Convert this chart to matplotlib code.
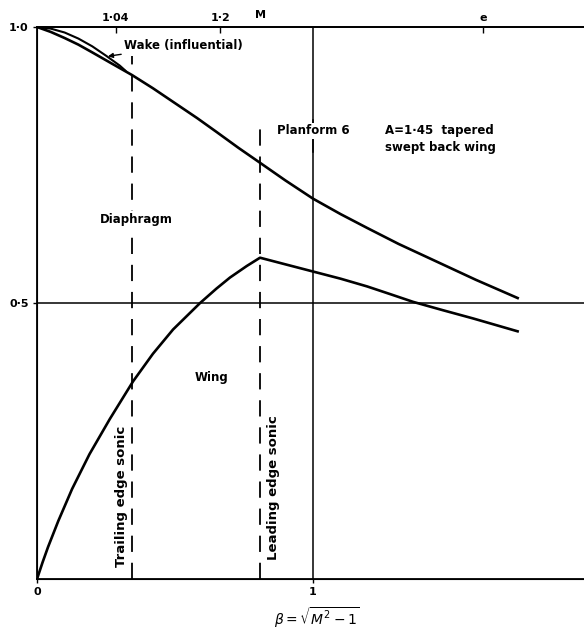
#!/usr/bin/env python3
"""Planform 6 (A=1.45 tapered swept back wing): load split vs beta = sqrt(M^2 - 1)."""
import numpy as np
import matplotlib.pyplot as plt

# diaphragm share (upper curve)
beta_diaph = [0.0, 0.05, 0.10, 0.15, 0.20, 0.27, 0.344, 0.42, 0.50, 0.58, 0.65, 0.73, 0.808,
              0.90, 1.00, 1.10, 1.196, 1.31, 1.435, 1.59, 1.746]
val_diaph = [1.000, 0.991, 0.980, 0.968, 0.954, 0.934, 0.913, 0.889, 0.862, 0.835, 0.810, 0.781, 0.754,
             0.722, 0.689, 0.661, 0.636, 0.607, 0.578, 0.542, 0.508]

# wake (influential) branch near the origin
beta_wake = [0.0, 0.05, 0.10, 0.15, 0.20, 0.25, 0.30, 0.32]
val_wake = [1.000, 0.997, 0.990, 0.979, 0.965, 0.948, 0.930, 0.921]

# wing share (lower curve)
beta_wing = [0.0, 0.02, 0.04, 0.077, 0.127, 0.19, 0.264, 0.348, 0.42, 0.493, 0.591, 0.65, 0.699, 0.76, 0.808,
             0.90, 1.00, 1.10, 1.196, 1.28, 1.363, 1.47, 1.58, 1.746]
val_wing = [0.000, 0.030, 0.058, 0.105, 0.163, 0.226, 0.290, 0.358, 0.408, 0.452, 0.500, 0.526, 0.546, 0.567, 0.582,
            0.570, 0.557, 0.544, 0.530, 0.516, 0.502, 0.487, 0.472, 0.448]

# sonic edges (beta)
beta_te_sonic = 0.344
beta_le_sonic = 0.808

# Mach scale along the top
mach_ticks = [1.04, 1.2, 1.9]
mach_labels = ["1·04", "1·2", "e"]

FONT = "DejaVu Sans"
FW = "bold"


def main():
    fig = plt.figure(figsize=(5.84, 6.32), dpi=100)
    ax = fig.add_axes([0.0634, 0.0839, 0.9366, 0.8734])
    xmax = 1.982
    ax.set_xlim(0, xmax)
    ax.set_ylim(0, 1.0)

    ax.spines["right"].set_visible(False)
    for s in ["left", "bottom", "top"]:
        ax.spines[s].set_linewidth(1.3)

    # reference lines
    ax.axhline(0.5, color="black", lw=1.1)
    ax.plot([1.0, 1.0], [0, 0.832], color="black", lw=1.1)
    ax.plot([1.0, 1.0], [0.774, 1.0], color="black", lw=1.1)

    # sonic-edge dashed lines
    ax.plot([beta_te_sonic] * 2, [0, 0.948], color="black", lw=1.3, dashes=(9, 6))
    ax.plot([beta_le_sonic] * 2, [0, 0.816], color="black", lw=1.3, dashes=(9, 6))

    # curves
    ax.plot(beta_diaph, val_diaph, color="black", lw=1.9, solid_capstyle="butt", solid_joinstyle="round")
    ax.plot(beta_wake, val_wake, color="black", lw=1.5, solid_joinstyle="round")
    ax.plot(beta_wing, val_wing, color="black", lw=1.9, solid_capstyle="butt", solid_joinstyle="round")

    # bottom / left ticks
    ax.set_xticks([0, 1])
    ax.set_xticklabels(["0", "1"], fontsize=8, fontweight=FW, family=FONT)
    ax.set_yticks([0.5, 1.0])
    ax.set_yticklabels(["0·5", "1·0"], fontsize=8, fontweight=FW, family=FONT)
    ax.tick_params(axis="both", length=3, width=1, direction="out", pad=3)

    # Mach scale on top
    top = ax.twiny()
    top.set_xlim(ax.get_xlim())
    top.spines["right"].set_visible(False)
    top.spines["top"].set_linewidth(1.3)
    top.set_xticks([np.sqrt(m ** 2 - 1) for m in mach_ticks])
    top.set_xticklabels(mach_labels, fontsize=8, fontweight=FW, family=FONT)
    top.tick_params(axis="x", length=4, width=1, direction="in", pad=3)
    top.text(beta_le_sonic, 1.012, "M", transform=top.get_xaxis_transform(),
             ha="center", va="bottom", fontsize=8, fontweight=FW, family=FONT)

    # annotations
    tk = dict(fontsize=8.5, fontweight=FW, family=FONT, color="black")
    ax.annotate("Wake (influential)", xy=(0.257, 0.947), xytext=(0.315, 0.967),
                ha="left", va="center",
                arrowprops=dict(arrowstyle="-|>", color="black", lw=1.0,
                                mutation_scale=7, shrinkA=0, shrinkB=0), **tk)
    ax.text(0.358, 0.651, "Diaphragm", ha="center", va="center",
            bbox=dict(facecolor="white", edgecolor="none", pad=1.5), **tk)
    ax.text(0.633, 0.365, "Wing", ha="center", va="center", **tk)
    ax.text(0.869, 0.812, "Planform 6", ha="left", va="center",
            bbox=dict(facecolor="white", edgecolor="none", pad=1.0), **tk)
    ax.text(1.261, 0.812, "A=1·45  tapered", ha="left", va="center", **tk)
    ax.text(1.261, 0.781, "swept back wing", ha="left", va="center", **tk)
    tr = dict(tk, fontsize=9.5)
    ax.text(0.305, 0.150, "Trailing edge sonic", rotation=90, ha="center", va="center",
            bbox=dict(facecolor="white", edgecolor="none", pad=0.5), **tr)
    ax.text(0.858, 0.166, "Leading edge sonic", rotation=90, ha="center", va="center",
            bbox=dict(facecolor="white", edgecolor="none", pad=0.5), **tr)

    fig.text(317 / 584, 1 - 618 / 632, r"$\beta = \sqrt{M^2 - 1}$", ha="center", va="center",
             fontsize=10)

    fig.savefig("out.png", dpi=100)
    plt.close(fig)


if __name__ == "__main__":
    main()
